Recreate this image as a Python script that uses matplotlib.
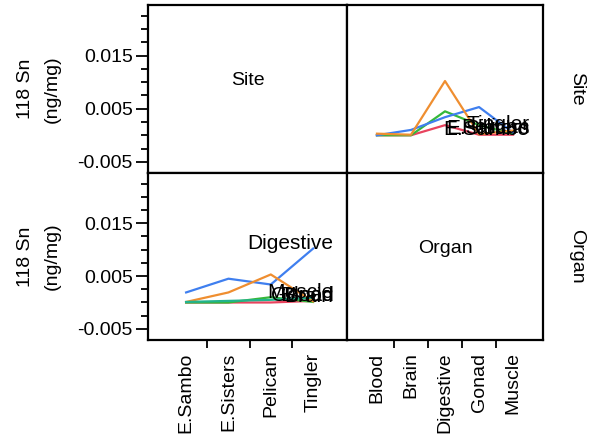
import matplotlib
matplotlib.use("Agg")
import matplotlib.pyplot as plt
from matplotlib.ticker import MultipleLocator, FixedLocator
import numpy as np

plt.rcParams['font.family'] = ['Liberation Sans', 'DejaVu Sans']
plt.rcParams['axes.unicode_minus'] = False

sites = ["E.Sambo", "E.Sisters", "Pelican", "Tingler"]
organs = ["Blood", "Brain", "Digestive", "Gonad", "Muscle"]

# mean 118 Sn (ng/mg), rows = site, columns = organ
sambo = [0.0000, 0.0000, 0.0019, 0.0001, 0.0001]
sisters = [0.0000, 0.0000, 0.0045, 0.0019, 0.0003]
pelican = [0.0000, 0.0010, 0.0034, 0.0053, 0.0005]
tingler = [0.0003, 0.0001, 0.0102, 0.0002, 0.0009]

site_colors = ['#e8435e', '#35b83a', '#3f7fef', '#ef8e30']
organ_colors = ['#e8435e', '#35b83a', '#3f7fef', '#ef8e30', '#22b38c']

y_major = [-0.005, 0.005, 0.015]
y_labels = ['-0.005', '0.005', '0.015']


def style_panel(ax, yticks=False):
    for s in ax.spines.values():
        s.set_linewidth(1.6)
    ax.set_ylim(-0.0071, 0.0245)
    if yticks:
        ax.yaxis.set_major_locator(FixedLocator(y_major))
        ax.set_yticklabels(y_labels, fontsize=14)
        ax.yaxis.set_minor_locator(MultipleLocator(0.0025))
        ax.tick_params(axis='y', which='major', length=9, width=1.3, pad=2)
        ax.tick_params(axis='y', which='minor', length=5, width=1.3)
    else:
        ax.set_yticks([])
    ax.set_xticks([])


def cat_axis(ax, labels):
    n = len(labels)
    ax.set_xticks(range(n))
    ax.set_xticklabels(labels, rotation=90, fontsize=14, va='top')
    ax.set_xticks(np.arange(n - 1) + 0.5, minor=True)
    ax.tick_params(axis='x', which='major', length=0, pad=9)
    ax.tick_params(axis='x', which='minor', length=6, width=1.3)


table = np.array([sambo, sisters, pelican, tingler])

fig = plt.figure(figsize=(5.9, 4.38), dpi=100)
x0, x1, x2 = 148 / 590, 347 / 590, 543 / 590
yb, ym, yt = 1 - 340 / 438, 1 - 173 / 438, 1 - 5 / 438

ax_tl = fig.add_axes([x0, ym, x1 - x0, yt - ym])
ax_tr = fig.add_axes([x1, ym, x2 - x1, yt - ym])
ax_bl = fig.add_axes([x0, yb, x1 - x0, ym - yb])
ax_br = fig.add_axes([x1, yb, x2 - x1, ym - yb])

site_xlim = (-0.9, 3.8)
organ_xlim = (-0.88, 4.88)

# top-left: Site label
style_panel(ax_tl, yticks=True)
ax_tl.set_xlim(*site_xlim)
ax_tl.text(0.5, 0.55, "Site", transform=ax_tl.transAxes, ha='center', va='center', fontsize=14)

# top-right: site lines across organs
style_panel(ax_tr)
ax_tr.set_xlim(*organ_xlim)
xo = np.arange(len(organs))
for i, s in enumerate(sites):
    ax_tr.plot(xo, table[i], color=site_colors[i], lw=1.6)
for i, s in enumerate(sites):
    ax_tr.text(xo[-1] + 0.48, table[i][-1], s, ha='right', va='baseline', fontsize=15)

# bottom-left: organ lines across sites
style_panel(ax_bl, yticks=True)
ax_bl.set_xlim(*site_xlim)
xs = np.arange(len(sites))
for j, o in enumerate(organs):
    ax_bl.plot(xs, table[:, j], color=organ_colors[j], lw=1.6)
for j, o in enumerate(organs):
    ax_bl.text(xs[-1] + 0.48, table[-1, j], o, ha='right', va='baseline', fontsize=15)
cat_axis(ax_bl, sites)

# bottom-right: Organ label
style_panel(ax_br)
ax_br.set_xlim(*organ_xlim)
ax_br.text(0.5, 0.55, "Organ", transform=ax_br.transAxes, ha='center', va='center', fontsize=14)
cat_axis(ax_br, organs)

# y labels
for yc in [(ym + yt) / 2, (yb + ym) / 2]:
    fig.text(39 / 590, yc, "118 Sn\n(ng/mg)", rotation=90, ha='center', va='center',
             fontsize=14, linespacing=1.75)

# row labels on the right
fig.text(577 / 590, (ym + yt) / 2, "Site", rotation=270, ha='center', va='center', fontsize=14)
fig.text(577 / 590, (yb + ym) / 2, "Organ", rotation=270, ha='center', va='center', fontsize=14)

# title mostly cut off above the frame
fig.text(20 / 590, 1 - 2 / 438, "Interaction Profiles", ha='left', va='bottom',
         fontsize=14, color='#b0b0b0')

fig.savefig("out.png", dpi=100)
